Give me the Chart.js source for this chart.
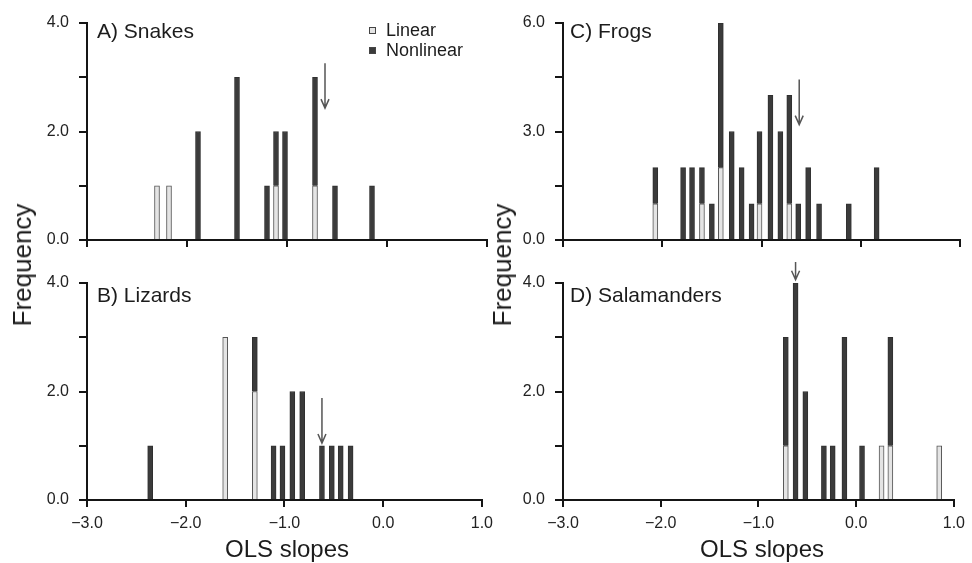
<!DOCTYPE html>
<html lang="en">
<head>
<meta charset="UTF-8">
<title>OLS slopes by taxon</title>
<script src="https://cdn.jsdelivr.net/npm/chart.js"></script>
<style>
    body { margin: 0; background: #fff; font-family: "Liberation Sans", Arial, sans-serif; color: #1c1c1c; }
    #wrap { position: relative; width: 972px; height: 563px; overflow: hidden; }
    canvas { position: absolute; }
    .lbl { position: absolute; white-space: nowrap; line-height: 1; transform: translateY(-50%); }
    .panel { font-size: 21px; }
    .key { font-size: 18px; }
    .xtitle { position: absolute; font-size: 24px; line-height: 1; white-space: nowrap; transform: translate(-50%, -50%); }
    .ytitle { position: absolute; font-size: 26px; line-height: 1; white-space: nowrap; transform: translate(-50%, -50%) rotate(-90deg); }
    .sw { position: absolute; width: 5px; height: 5px; border: 1px solid #444; }
</style>
</head>
<body>
<div id="wrap">
    <canvas id="snakes" width="500" height="262" style="left:0;top:0"></canvas>
    <canvas id="lizards" width="500" height="301" style="left:0;top:262px"></canvas>
    <canvas id="frogs" width="496" height="262" style="left:476px;top:0"></canvas>
    <canvas id="salamanders" width="496" height="301" style="left:476px;top:262px"></canvas>

    <div class="lbl panel" style="left:97px;top:30px">A) Snakes</div>
    <div class="lbl panel" style="left:97px;top:294px">B) Lizards</div>
    <div class="lbl panel" style="left:570px;top:30px">C) Frogs</div>
    <div class="lbl panel" style="left:570px;top:294px">D) Salamanders</div>

    <div class="sw" style="left:369px;top:27px;background:#e4e4e4"></div>
    <div class="lbl key" style="left:386px;top:30px">Linear</div>
    <div class="sw" style="left:369px;top:47px;background:#3b3b3b"></div>
    <div class="lbl key" style="left:386px;top:50px">Nonlinear</div>

    <div class="ytitle" style="left:22px;top:265px">Frequency</div>
    <div class="ytitle" style="left:502px;top:265px">Frequency</div>
    <div class="xtitle" style="left:287px;top:549px">OLS slopes</div>
    <div class="xtitle" style="left:762px;top:549px">OLS slopes</div>
</div>

<script>
    // bin centres (OLS slope) and counts, split into linear / nonlinear
    const snakesX   = [-2.30, -2.18, -1.89, -1.50, -1.20, -1.11, -1.02, -0.72, -0.52, -0.15];
    const snakesLin = [1, 1, 0, 0, 0, 1, 0, 1, 0, 0];
    const snakesNon = [0, 0, 2, 3, 1, 1, 2, 2, 1, 1];

    const lizardsX   = [-2.36, -1.60, -1.30, -1.11, -1.02, -0.92, -0.82, -0.62, -0.52, -0.43, -0.33];
    const lizardsLin = [0, 3, 2, 0, 0, 0, 0, 0, 0, 0, 0];
    const lizardsNon = [1, 0, 1, 1, 1, 2, 2, 1, 1, 1, 1];

    const frogsX   = [-2.07, -1.79, -1.70, -1.60, -1.50, -1.41, -1.30, -1.20, -1.10, -1.02, -0.91, -0.81, -0.72, -0.63, -0.53, -0.42, -0.12, 0.16];
    const frogsLin = [1, 0, 0, 1, 0, 2, 0, 0, 0, 1, 0, 0, 1, 0, 0, 0, 0, 0];
    const frogsNon = [1, 2, 2, 1, 1, 4, 3, 2, 1, 2, 4, 3, 3, 1, 2, 1, 1, 2];

    const salamX   = [-0.72, -0.62, -0.52, -0.33, -0.24, -0.12, 0.06, 0.26, 0.35, 0.85];
    const salamLin = [1, 0, 0, 0, 0, 0, 0, 1, 1, 1];
    const salamNon = [2, 4, 2, 1, 1, 3, 1, 0, 2, 0];

    // mean-slope arrows: x position and y extent (in frequency units)
    const arrowX    = [-0.62, -0.62, -0.62, -0.62];
    const arrowFrom = [3.26, 1.88, 4.44, 4.50];
    const arrowTo   = [2.43, 1.05, 3.19, 4.06];

    // axis ticks
    const xMin = -3, xMax = 1, xStep = 1;
    const yMax = [4, 4, 6, 4];
    const yStep = [1, 1, 1.5, 1];
    const yLabelled = [[0, 2, 4], [0, 2, 4], [0, 3, 6], [0, 2, 4]];

    const FONT = '"Liberation Sans", Arial, sans-serif';
    const AXIS = '#151515';

    function fmt(v) {
        return v.toFixed(1).replace('-', '\u2212');
    }

    function pts(xs, counts) {
        return xs.map((x, i) => ({ x: x, y: counts[i] })).filter(p => p.y > 0);
    }

    const arrowPlugin = {
        id: 'meanArrow',
        afterDatasetsDraw(chart, args, opts) {
            const ctx = chart.ctx;
            const px = chart.scales.x.getPixelForValue(opts.x);
            const y0 = chart.scales.y.getPixelForValue(opts.from);
            const y1 = chart.scales.y.getPixelForValue(opts.to);
            ctx.save();
            ctx.strokeStyle = '#555';
            ctx.lineWidth = 1.5;
            ctx.beginPath();
            ctx.moveTo(px, y0);
            ctx.lineTo(px, y1);
            ctx.moveTo(px - 4, y1 - 9);
            ctx.lineTo(px, y1);
            ctx.lineTo(px + 4, y1 - 9);
            ctx.stroke();
            ctx.restore();
        }
    };

    function makeChart(id, k, xs, lin, non, showX, box) {
        const axisGrid = {
            display: true, drawOnChartArea: false, drawTicks: true,
            tickLength: 7, lineWidth: 2, color: AXIS, offset: false
        };
        return new Chart(document.getElementById(id), {
            type: 'bar',
            data: {
                datasets: [
                    { label: 'Linear', data: pts(xs, lin), backgroundColor: '#e4e4e4',
                      borderColor: '#555', borderWidth: 1, barThickness: 5 },
                    { label: 'Nonlinear', data: pts(xs, non), backgroundColor: '#3b3b3b',
                      borderColor: '#303030', borderWidth: 1, barThickness: 5 }
                ]
            },
            options: {
                responsive: false,
                animation: false,
                layout: { padding: { top: box.top, right: box.right, left: 0, bottom: 0 } },
                plugins: {
                    legend: { display: false },
                    tooltip: { enabled: false },
                    meanArrow: { x: arrowX[k], from: arrowFrom[k], to: arrowTo[k] }
                },
                scales: {
                    x: {
                        type: 'linear', min: xMin, max: xMax, offset: false, stacked: true,
                        grid: axisGrid,
                        border: { display: true, color: AXIS, width: 2 },
                        ticks: {
                            stepSize: xStep, autoSkip: false, maxRotation: 0, padding: 7,
                            color: '#222', font: { family: FONT, size: 16 },
                            callback: v => showX ? fmt(v) : ''
                        },
                        afterFit: s => { s.height = box.xh; }
                    },
                    y: {
                        type: 'linear', min: 0, max: yMax[k], stacked: true,
                        grid: Object.assign({}, axisGrid, { tickLength: 8 }),
                        border: { display: true, color: AXIS, width: 2 },
                        ticks: {
                            stepSize: yStep[k], autoSkip: false, padding: 10,
                            color: '#222', font: { family: FONT, size: 16 },
                            callback: v => yLabelled[k].includes(v) ? fmt(v) : ''
                        },
                        afterFit: s => { s.width = box.yw; }
                    }
                }
            },
            plugins: [arrowPlugin]
        });
    }

    makeChart('snakes', 0, snakesX, snakesLin, snakesNon, false, { top: 23, right: 13, xh: 22, yw: 87 });
    makeChart('lizards', 1, lizardsX, lizardsLin, lizardsNon, true, { top: 21, right: 13, xh: 63, yw: 87 });
    makeChart('frogs', 2, frogsX, frogsLin, frogsNon, false, { top: 23, right: 12, xh: 22, yw: 87 });
    makeChart('salamanders', 3, salamX, salamLin, salamNon, true, { top: 21, right: 12, xh: 63, yw: 87 });
</script>
</body>
</html>
